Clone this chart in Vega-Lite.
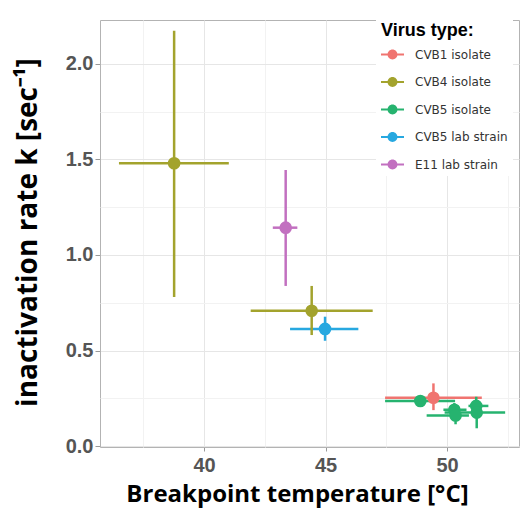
{
  "$schema": "https://vega.github.io/schema/vega-lite/v6.json",
  "width": 419,
  "height": 427,
  "autosize": {"type": "none"},
  "padding": {"left": 100, "top": 20, "right": 1, "bottom": 62},
  "background": "white",
  "data": {
    "values": [
      {"virus": "CVB4 isolate", "temp": 38.77, "tlo": 36.5, "thi": 41.02, "k": 1.48, "klo": 0.78, "khi": 2.174},
      {"virus": "E11 lab strain", "temp": 43.36, "tlo": 42.83, "thi": 43.84, "k": 1.143, "klo": 0.838, "khi": 1.445},
      {"virus": "CVB4 isolate", "temp": 44.43, "tlo": 41.92, "thi": 46.94, "k": 0.708, "klo": 0.581, "khi": 0.838},
      {"virus": "CVB5 lab strain", "temp": 44.98, "tlo": 43.54, "thi": 46.35, "k": 0.613, "klo": 0.551, "khi": 0.677},
      {"virus": "CVB5 isolate", "temp": 48.9, "tlo": 47.45, "thi": 50.33, "k": 0.236, "klo": 0.206, "khi": 0.267},
      {"virus": "CVB1 isolate", "temp": 49.44, "tlo": 47.45, "thi": 51.43, "k": 0.253, "klo": 0.188, "khi": 0.328},
      {"virus": "CVB5 isolate", "temp": 50.3, "tlo": 49.85, "thi": 50.8, "k": 0.19, "klo": 0.16, "khi": 0.225},
      {"virus": "CVB5 isolate", "temp": 50.35, "tlo": 49.16, "thi": 50.9, "k": 0.16, "klo": 0.114, "khi": 0.2},
      {"virus": "CVB5 isolate", "temp": 51.2, "tlo": 50.88, "thi": 51.7, "k": 0.21, "klo": 0.18, "khi": 0.258},
      {"virus": "CVB5 isolate", "temp": 51.22, "tlo": 49.9, "thi": 52.39, "k": 0.175, "klo": 0.093, "khi": 0.21}
    ]
  },
  "encoding": {
    "color": {
      "field": "virus",
      "type": "nominal",
      "title": "Virus type:",
      "scale": {
        "domain": ["CVB1 isolate", "CVB4 isolate", "CVB5 isolate", "CVB5 lab strain", "E11 lab strain"],
        "range": ["#F07470", "#A3A32D", "#26B36F", "#27A8E0", "#C270C0"]
      },
      "legend": {
        "orient": "none",
        "legendX": 276,
        "legendY": -3,
        "padding": 5,
        "fillColor": "white",
        "titleFont": "Liberation Sans",
        "titleFontSize": 18,
        "titleFontWeight": "bold",
        "titleColor": "black",
        "titlePadding": 3,
        "labelFont": "DejaVu Sans",
        "labelFontSize": 12,
        "labelColor": "#333333",
        "labelOffset": 11,
        "rowPadding": 9.5,
        "symbolType": "M-1,-0.09H1V0.09H-1Z M0.43,0A0.43,0.43,0,1,1,-0.43,0A0.43,0.43,0,1,1,0.43,0Z",
        "symbolSize": 529,
        "symbolStrokeWidth": 0,
        "symbolOpacity": 1
      }
    }
  },
  "layer": [
    {
      "mark": {"type": "rule", "strokeWidth": 2.5},
      "encoding": {
        "x": {
          "field": "tlo",
          "type": "quantitative",
          "scale": {"domain": [35.72, 52.96], "nice": false, "zero": false},
          "axis": {
            "title": "Breakpoint temperature [°C]",
            "values": [37.5, 40, 42.5, 45, 47.5, 50, 52.5],
            "labelExpr": "datum.value % 5 == 0 ? format(datum.value, 'd') : ''",
            "domain": false,
            "ticks": true,
            "tickSize": 4,
            "tickColor": "#999999",
            "tickOpacity": {"condition": {"test": "datum.value % 5 != 0", "value": 0}, "value": 1},
            "grid": true,
            "gridColor": {"condition": {"test": "datum.value % 5 != 0", "value": "#f2f2f2"}, "value": "#e6e6e6"},
            "gridWidth": 1,
            "labelFont": "Liberation Sans",
            "labelFontSize": 20,
            "labelFontWeight": "bold",
            "labelColor": "#555555",
            "labelPadding": 4,
            "titleFont": "Open Sans",
            "titleFontSize": 24,
            "titleFontWeight": "bold",
            "titleColor": "black",
            "titleX": 197,
            "titleY": 54,
            "titleBaseline": "alphabetic"
          }
        },
        "x2": {"field": "thi"},
        "y": {"field": "k", "type": "quantitative"}
      }
    },
    {
      "mark": {"type": "rule", "strokeWidth": 2.5},
      "encoding": {
        "x": {"field": "temp", "type": "quantitative"},
        "y": {
          "field": "klo",
          "type": "quantitative",
          "scale": {"domain": [-0.005, 2.23], "nice": false, "zero": false},
          "axis": {
            "title": "inactivation rate k [sec⁻¹]",
            "values": [0, 0.25, 0.5, 0.75, 1, 1.25, 1.5, 1.75, 2],
            "labelExpr": "(datum.value * 4) % 2 == 0 ? format(datum.value, '.1f') : ''",
            "domain": false,
            "ticks": true,
            "tickSize": 5,
            "tickColor": "#999999",
            "tickOpacity": {"condition": {"test": "(datum.value * 4) % 2 != 0", "value": 0}, "value": 1},
            "grid": true,
            "gridColor": {"condition": {"test": "(datum.value * 4) % 2 != 0", "value": "#f2f2f2"}, "value": "#e6e6e6"},
            "gridWidth": 1,
            "labelFont": "Liberation Sans",
            "labelFontSize": 20,
            "labelFontWeight": "bold",
            "labelColor": "#555555",
            "labelPadding": 2,
            "titleFont": "Open Sans",
            "titleFontSize": 28,
            "titleFontWeight": "bold",
            "titleColor": "black",
            "titleAngle": -90,
            "titleX": -64,
            "titleY": 212,
            "titleAlign": "center",
            "titleBaseline": "alphabetic"
          }
        },
        "y2": {"field": "khi"}
      }
    },
    {
      "mark": {"type": "point", "filled": true, "size": 160, "opacity": 1},
      "encoding": {
        "x": {"field": "temp", "type": "quantitative"},
        "y": {"field": "k", "type": "quantitative"}
      }
    }
  ],
  "config": {
    "view": {"stroke": "#b3b3b3", "strokeWidth": 1}
  }
}
